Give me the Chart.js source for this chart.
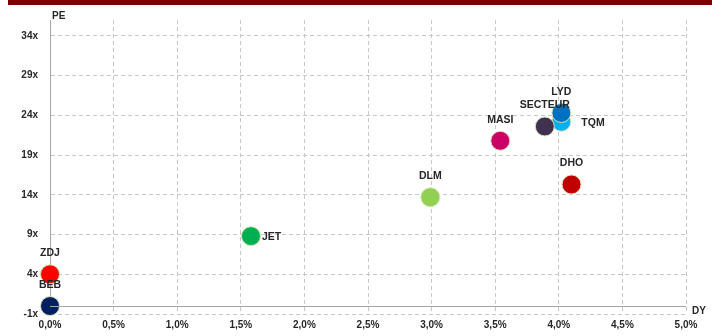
<!DOCTYPE html>
<html>
<head>
<meta charset="utf-8">
<script src="https://cdn.jsdelivr.net/npm/chart.js@4"></script>
<style>
  html, body { margin: 0; padding: 0; background: #fff; }
  #wrap { position: relative; width: 721px; height: 336px; }
  #band { position: absolute; left: 8px; top: 0; width: 704px; height: 5px; background: #7f0000; }
</style>
</head>
<body>
<div id="wrap">
  <div id="band"></div>
  <canvas id="chart" width="721" height="336"></canvas>
</div>
<script>
const names = ['ZDJ', 'BEB', 'JET', 'DLM', 'MASI', 'DHO', 'TQM', 'LYD', 'SECTEUR'];
const dyValues = [0.0, 0.0, 1.58, 2.99, 3.54, 4.10, 4.02, 4.02, 3.89];
const peValues = [4.0, 0.0, 8.8, 13.7, 20.8, 15.3, 23.2, 24.3, 22.6];
const pointColors = ['#ff0000', '#002060', '#00b050', '#92d050', '#cc0066', '#c00000', '#00b0f0', '#0070c0', '#403151'];
const labelSide = ['top', 'top', 'right', 'top', 'top', 'top', 'right', 'top', 'top'];
const yTicks = [-1, 4, 9, 14, 19, 24, 29, 34];
const xTicks = [0, 0.5, 1, 1.5, 2, 2.5, 3, 3.5, 4, 4.5, 5];

const FONT = 'bold 10px "Liberation Sans", Arial, sans-serif';
const LABEL_FONT = 'bold 10.5px "Liberation Sans", Arial, sans-serif';
const TEXT = '#262626';
const GRID = '#c8c8c8';

const fmtPct = v => v.toFixed(1).replace('.', ',') + '%';

const extras = {
  id: 'extras',
  afterDraw(chart) {
    const { ctx, chartArea, scales } = chart;
    ctx.save();
    // solid axis line at PE = 0
    const y0 = Math.round(scales.y.getPixelForValue(0)) + 0.5;
    ctx.strokeStyle = '#a6a6a6';
    ctx.lineWidth = 1;
    ctx.beginPath();
    ctx.moveTo(chartArea.left, y0);
    ctx.lineTo(chartArea.right, y0);
    ctx.stroke();
    // axis titles
    ctx.font = FONT;
    ctx.fillStyle = TEXT;
    ctx.textAlign = 'left';
    ctx.textBaseline = 'middle';
    ctx.fillText('PE', chartArea.left + 2, 16);
    ctx.fillText('DY', chartArea.right + 6, 311);
    // point labels
    ctx.font = LABEL_FONT;
    const meta = chart.getDatasetMeta(0);
    meta.data.forEach((pt, i) => {
      if (labelSide[i] === 'right') {
        ctx.textAlign = 'left';
        ctx.fillText(names[i], pt.x + (names[i] === 'TQM' ? 20 : 11), pt.y + 1);
      } else {
        ctx.textAlign = 'center';
        ctx.fillText(names[i], pt.x, pt.y - 21);
      }
    });
    ctx.restore();
  }
};

new Chart(document.getElementById('chart').getContext('2d'), {
  type: 'scatter',
  data: {
    datasets: [{
      data: names.map((n, i) => ({ x: dyValues[i], y: peValues[i] })),
      backgroundColor: pointColors,
      borderColor: '#d7e4bd',
      borderWidth: 1,
      pointRadius: 9.5,
      pointHoverRadius: 9.5,
      clip: false
    }]
  },
  options: {
    responsive: false,
    animation: false,
    layout: { padding: { top: 20, right: 35, left: 0, bottom: 0 } },
    plugins: { legend: { display: false }, tooltip: { enabled: false } },
    scales: {
      x: {
        type: 'linear',
        min: 0,
        max: 5,
        afterBuildTicks: s => { s.ticks = xTicks.map(v => ({ value: v })); },
        afterFit: s => { s.height = 22; },
        grid: { color: GRID, drawTicks: false, lineWidth: 1 },
        border: { display: false, dash: [4, 3] },
        ticks: {
          font: { family: '"Liberation Sans", Arial, sans-serif', size: 10, weight: 'bold' },
          color: TEXT,
          padding: 5,
          maxRotation: 0,
          autoSkip: false,
          callback: v => fmtPct(v)
        }
      },
      y: {
        type: 'linear',
        min: -1,
        max: 36,
        afterBuildTicks: s => { s.ticks = yTicks.map(v => ({ value: v })); },
        afterFit: s => { s.width = 50; },
        grid: { color: GRID, drawTicks: false, lineWidth: 1 },
        border: { display: true, color: '#a6a6a6', dash: [4, 3] },
        ticks: {
          font: { family: '"Liberation Sans", Arial, sans-serif', size: 10, weight: 'bold' },
          color: TEXT,
          padding: 12,
          autoSkip: false,
          callback: v => v + 'x'
        }
      }
    }
  },
  plugins: [extras]
});
</script>
</body>
</html>
